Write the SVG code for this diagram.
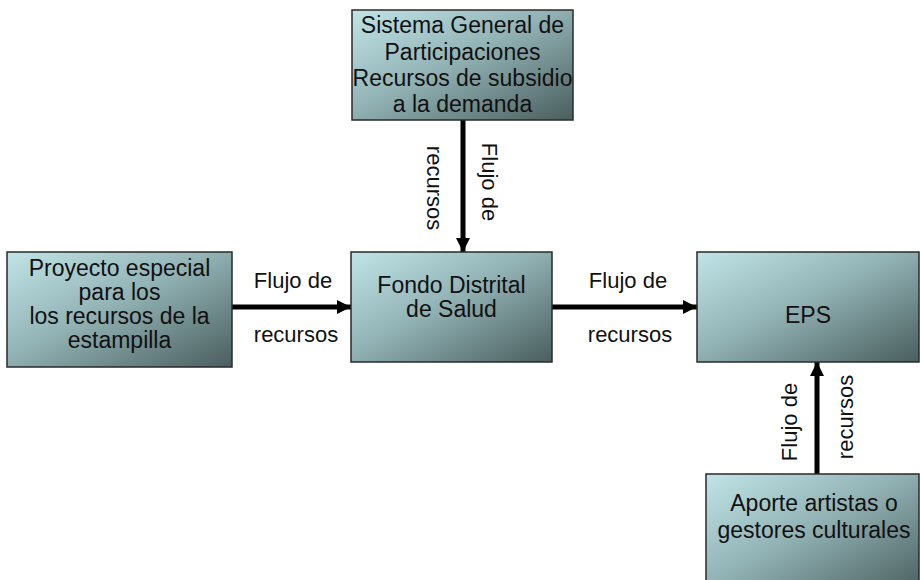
<svg xmlns="http://www.w3.org/2000/svg" width="920" height="580" viewBox="0 0 920 580">
<defs>
<linearGradient id="g" x1="0" y1="0" x2="1" y2="1">
<stop offset="0" stop-color="#c0e4e7"/>
<stop offset="0.45" stop-color="#93b4b6"/>
<stop offset="1" stop-color="#4a5e5e"/>
</linearGradient>
<marker id="ah" viewBox="0 0 10 10" refX="10" refY="5" markerWidth="2.8" markerHeight="3" orient="auto" markerUnits="strokeWidth">
<path d="M0,0 L10,5 L0,10 Z" fill="#000"/>
</marker>
<style>
.box{fill:url(#g);stroke:#2a2a2a;stroke-width:1.5}
.t{font-family:"Liberation Sans",Arial,sans-serif;font-size:22px;fill:#111;text-anchor:middle}
.b{font-size:23px}
.c{stroke:#000;stroke-width:5;fill:none;marker-end:url(#ah)}
</style>
</defs>
<rect width="920" height="580" fill="#fff"/>
<g id="connectors">
<line class="c" x1="463" y1="120" x2="463" y2="252"/>
<line class="c" x1="232" y1="307" x2="351" y2="307"/>
<line class="c" x1="552" y1="307" x2="697" y2="307"/>
<line class="c" x1="817" y1="474" x2="817" y2="362"/>
<text class="t" transform="translate(482,182) rotate(90)">Flujo de</text>
<text class="t" transform="translate(427,188) rotate(90)">recursos</text>
<text class="t" x="293" y="288">Flujo de</text>
<text class="t" x="296" y="342">recursos</text>
<text class="t" x="628" y="288">Flujo de</text>
<text class="t" x="630" y="342">recursos</text>
<text class="t" transform="translate(797,422) rotate(-90)">Flujo de</text>
<text class="t" transform="translate(853,417) rotate(-90)">recursos</text>
</g>
<g id="sgp">
<rect class="box" x="352" y="10" width="221" height="110"/>
<text class="t b" x="462.5" y="33">Sistema General de</text>
<text class="t b" x="462.5" y="59.5">Participaciones</text>
<text class="t b" x="462.5" y="86">Recursos de subsidio</text>
<text class="t b" x="462.5" y="112">a la demanda</text>
</g>
<g id="proyecto">
<rect class="box" x="7" y="252" width="225" height="115"/>
<text class="t b" x="119.5" y="276">Proyecto especial</text>
<text class="t b" x="119.5" y="300">para los</text>
<text class="t b" x="119.5" y="324">los recursos de la</text>
<text class="t b" x="119.5" y="348">estampilla</text>
</g>
<g id="fondo">
<rect class="box" x="351" y="252" width="201" height="110"/>
<text class="t b" x="451.5" y="293">Fondo Distrital</text>
<text class="t b" x="451.5" y="317">de Salud</text>
</g>
<g id="eps">
<rect class="box" x="697" y="252" width="222" height="110"/>
<text class="t b" x="808" y="323">EPS</text>
</g>
<g id="aporte">
<rect class="box" x="706" y="474" width="213" height="120"/>
<text class="t b" x="814" y="511">Aporte artistas o</text>
<text class="t b" x="814" y="538">gestores culturales</text>
</g>
</svg>
